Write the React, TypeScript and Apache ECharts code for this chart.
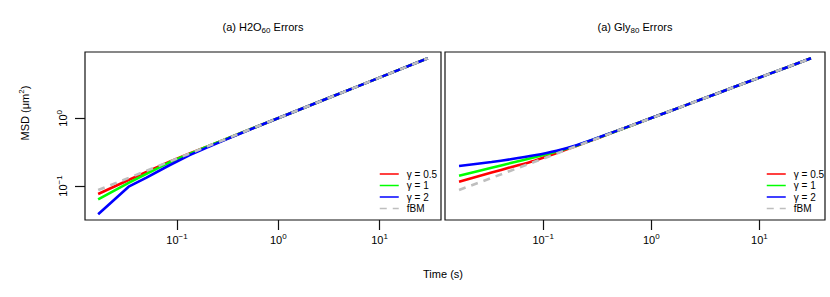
import React, { useEffect, useRef } from 'react';
import * as echarts from 'echarts';

// frame numbers at 60 frames per second
const frames = [1, 2, 3, 5, 8, 12, 20, 40, 90, 180, 360, 720, 1800];
const fps = 60;

const seriesNames = ['γ = 0.5', 'γ = 1', 'γ = 2', 'fBM'];
const seriesColors = ['#ff0000', '#00ff00', '#0000ff', '#bebebe'];

// MSD (µm²) values
const fbmMSD = [0.0873, 0.1318, 0.168, 0.228, 0.302, 0.385, 0.522, 0.791, 1.283, 1.94, 2.94, 4.45, 7.69];

const h2oGamma05 = [0.0762, 0.1227, 0.161, 0.226, 0.302, 0.385, 0.522, 0.791, 1.283, 1.94, 2.94, 4.45, 7.69];
const h2oGamma1 = [0.0636, 0.111, 0.151, 0.222, 0.298, 0.384, 0.522, 0.791, 1.283, 1.94, 2.94, 4.45, 7.69];
const h2oGamma2 = [0.0382, 0.0977, 0.1334, 0.201, 0.286, 0.372, 0.515, 0.789, 1.283, 1.94, 2.94, 4.45, 7.69];

const glyGamma05 = [0.1158, 0.158, 0.189, 0.237, 0.308, 0.387, 0.522, 0.791, 1.283, 1.94, 2.94, 4.45, 7.69];
const glyGamma1 = [0.142, 0.186, 0.218, 0.266, 0.323, 0.39, 0.524, 0.791, 1.283, 1.94, 2.94, 4.45, 7.69];
const glyGamma2 = [0.197, 0.226, 0.248, 0.284, 0.332, 0.397, 0.528, 0.793, 1.283, 1.94, 2.94, 4.45, 7.69];

const xTicks = [0.1, 1, 10];
const yTicks = [0.1, 1];

const FONT = '"Liberation Sans", Arial, Helvetica, sans-serif';

const panels = [
  { title: '(a) H2O{sub|60} Errors', data: [h2oGamma05, h2oGamma1, h2oGamma2, fbmMSD], grid: { left: 85, top: 52, width: 356, height: 168 }, legendLeft: 374, titleX: 263, smooth: false },
  { title: '(a) Gly{sub|80} Errors', data: [glyGamma05, glyGamma1, glyGamma2, fbmMSD], grid: { left: 445, top: 52, width: 380, height: 168 }, legendLeft: 761, titleX: 635, smooth: 0.3 },
];

const powLabel = (v: number) => {
  const e = Math.round(Math.log10(v));
  if (Math.abs(Math.log10(v) - e) > 1e-6) return '';
  const s = e < 0 ? '\u2212' + String(-e) : String(e);
  return '{b|10}{s|' + s + '}';
};

const labelRich = {
  b: { fontSize: 11, lineHeight: 16, fontFamily: FONT, color: '#000' },
  s: { fontSize: 8, lineHeight: 8, verticalAlign: 'top', fontFamily: FONT, color: '#000' },
};

export default function App() {
  const ref = useRef<HTMLDivElement>(null);
  useEffect(() => {
    document.body.style.margin = '0';
    if (!ref.current) return;
    const chart = echarts.init(ref.current, null, { renderer: 'svg' });
    const grids: any[] = [];
    const xAxes: any[] = [];
    const yAxes: any[] = [];
    const series: any[] = [];
    const legends: any[] = [];
    const graphics: any[] = [];
    panels.forEach((p, i) => {
      grids.push({ ...p.grid, show: true, borderColor: '#111', borderWidth: 1.2, backgroundColor: 'transparent' });
      xAxes.push({
        type: 'log', logBase: 10, gridIndex: i, min: 0.01236, max: 40.46,
        axisLine: { show: false }, splitLine: { show: false }, minorTick: { show: false },
        axisTick: { show: true, length: 10, lineStyle: { color: '#111', width: 1.2 }, customValues: xTicks },
        axisLabel: { customValues: xTicks, formatter: powLabel, rich: labelRich, margin: 12, color: '#000' },
      });
      yAxes.push({
        type: 'log', logBase: 10, gridIndex: i, min: 0.0315, max: 9.53,
        axisLine: { show: false }, splitLine: { show: false }, minorTick: { show: false },
        axisTick: { show: i === 0, length: 10, lineStyle: { color: '#111', width: 1.2 }, customValues: yTicks },
        axisLabel: { show: i === 0, customValues: yTicks, formatter: powLabel, rich: labelRich, rotate: 90, margin: 14, color: '#000' },
      });
      p.data.forEach((vals, k) => {
        series.push({
          type: 'line', name: seriesNames[k], xAxisIndex: i, yAxisIndex: i,
          data: frames.map((f, j) => [f / fps, vals[j]]),
          symbol: 'none', showSymbol: false, clip: true, smooth: k === 3 ? false : p.smooth,
          itemStyle: { color: seriesColors[k] },
          lineStyle: k === 3
            ? { color: seriesColors[k], width: 2.6, type: [7, 6] }
            : { color: seriesColors[k], width: 2.6 },
        });
      });
      legends.push({
        data: seriesNames, orient: 'vertical', left: p.legendLeft, top: 164,
        itemWidth: 19, itemHeight: 10, itemGap: 1.5, selectedMode: false,
        lineStyle: { width: 1.5 },
        itemStyle: { opacity: 0, borderWidth: 0 },
        textStyle: { fontSize: 10, fontFamily: FONT, color: '#000', padding: [0, 0, 0, 3] },
      });
      graphics.push({
        type: 'text', x: p.titleX, y: 27,
        style: {
          text: p.title, textAlign: 'center', textVerticalAlign: 'middle',
          fontSize: 11, fontFamily: FONT, fill: '#000', lineHeight: 14,
          rich: { sub: { fontSize: 8, lineHeight: 8, verticalAlign: 'bottom', fontFamily: FONT, fill: '#000' } },
        },
      });
    });
    graphics.push({
      type: 'text', x: 25, y: 113, rotation: Math.PI / 2,
      style: {
        text: 'MSD (μm{s|2})', textAlign: 'center', textVerticalAlign: 'middle',
        fontSize: 11, fontFamily: FONT, fill: '#000', lineHeight: 16,
        rich: { s: { fontSize: 8, lineHeight: 8, verticalAlign: 'top', fontFamily: FONT, fill: '#000' } },
      },
    });
    graphics.push({
      type: 'text', x: 443, y: 274,
      style: { text: 'Time (s)', textAlign: 'center', textVerticalAlign: 'middle', fontSize: 11, fontFamily: FONT, fill: '#000' },
    });
    chart.setOption({
      animation: false,
      backgroundColor: '#fff',
      textStyle: { fontFamily: FONT },
      grid: grids, xAxis: xAxes, yAxis: yAxes, series, legend: legends, graphic: graphics,
    });
    return () => chart.dispose();
  }, []);
  return <div ref={ref} style={{ width: 830, height: 297 }} />;
}
